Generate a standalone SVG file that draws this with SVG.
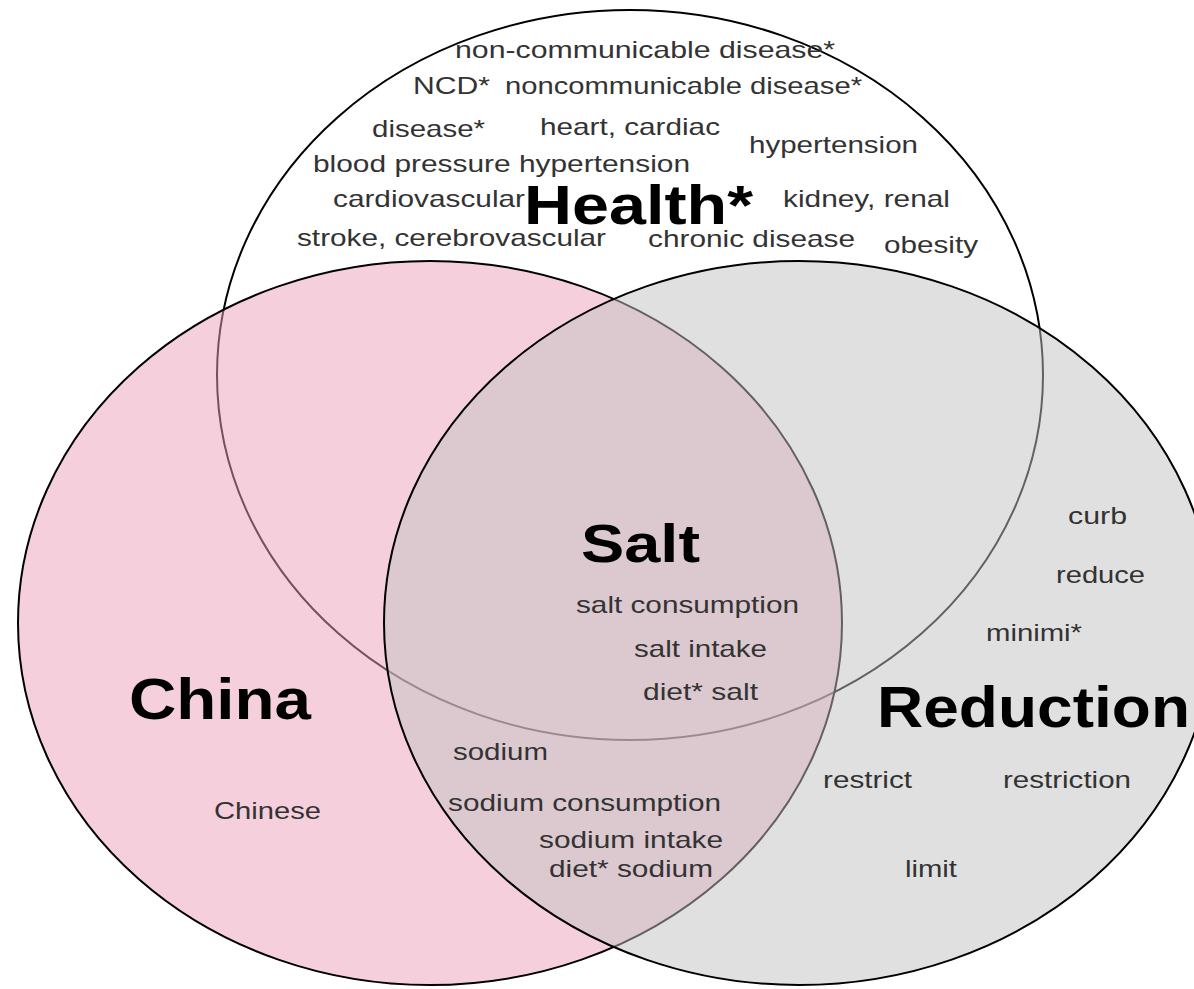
<svg xmlns="http://www.w3.org/2000/svg" width="1194" height="989" viewBox="0 0 1194 989">
<style>
.set{stroke:#000;stroke-width:2}
.t{font-family:"Liberation Sans",Arial,sans-serif;font-size:24px;fill:#333}
.big{font-family:"Liberation Sans",Arial,sans-serif;font-weight:bold;fill:#000}
</style>
<rect width="1194" height="989" fill="#fff"/>
<g id="health">
<ellipse class="set" cx="630" cy="375" rx="413" ry="365" fill="#fff"/>
</g>
<g id="china">
<ellipse class="set" cx="430" cy="623" rx="412" ry="362" fill="#ed9fbb" fill-opacity="0.5"/>
</g>
<g id="reduction">
<ellipse class="set" cx="799" cy="623" rx="415" ry="362" fill="#c1c1c1" fill-opacity="0.5"/>
</g>
<g id="health-labels">
<text class="t" x="455" y="58" textLength="380" lengthAdjust="spacingAndGlyphs">non-communicable disease*</text>
<text class="t" x="413" y="94" textLength="77" lengthAdjust="spacingAndGlyphs">NCD*</text>
<text class="t" x="505" y="94" textLength="357" lengthAdjust="spacingAndGlyphs">noncommunicable disease*</text>
<text class="t" x="372" y="137" textLength="113" lengthAdjust="spacingAndGlyphs">disease*</text>
<text class="t" x="540" y="135" textLength="180" lengthAdjust="spacingAndGlyphs">heart, cardiac</text>
<text class="t" x="749" y="153" textLength="169" lengthAdjust="spacingAndGlyphs">hypertension</text>
<text class="t" x="313" y="172" textLength="377" lengthAdjust="spacingAndGlyphs">blood pressure hypertension</text>
<text class="t" x="333" y="207" textLength="192" lengthAdjust="spacingAndGlyphs">cardiovascular</text>
<text class="t" x="783" y="207" textLength="167" lengthAdjust="spacingAndGlyphs">kidney, renal</text>
<text class="t" x="297" y="246" textLength="309" lengthAdjust="spacingAndGlyphs">stroke, cerebrovascular</text>
<text class="t" x="648" y="247" textLength="207" lengthAdjust="spacingAndGlyphs">chronic disease</text>
<text class="t" x="884" y="253" textLength="94" lengthAdjust="spacingAndGlyphs">obesity</text>
<text class="big" x="524" y="224" font-size="55" textLength="229" lengthAdjust="spacingAndGlyphs">Health*</text>
</g>
<g id="salt-labels">
<text class="big" x="581" y="562" font-size="54" textLength="119" lengthAdjust="spacingAndGlyphs">Salt</text>
<text class="t" x="576" y="613" textLength="223" lengthAdjust="spacingAndGlyphs">salt consumption</text>
<text class="t" x="634" y="657" textLength="133" lengthAdjust="spacingAndGlyphs">salt intake</text>
<text class="t" x="643" y="700" textLength="115" lengthAdjust="spacingAndGlyphs">diet* salt</text>
<text class="t" x="453" y="760" textLength="95" lengthAdjust="spacingAndGlyphs">sodium</text>
<text class="t" x="448" y="811" textLength="273" lengthAdjust="spacingAndGlyphs">sodium consumption</text>
<text class="t" x="539" y="848" textLength="184" lengthAdjust="spacingAndGlyphs">sodium intake</text>
<text class="t" x="549" y="877" textLength="164" lengthAdjust="spacingAndGlyphs">diet* sodium</text>
</g>
<g id="china-labels">
<text class="big" x="129" y="719" font-size="57" textLength="182" lengthAdjust="spacingAndGlyphs">China</text>
<text class="t" x="214" y="819" textLength="107" lengthAdjust="spacingAndGlyphs">Chinese</text>
</g>
<g id="reduction-labels">
<text class="big" x="877" y="727" font-size="58" textLength="313" lengthAdjust="spacingAndGlyphs">Reduction</text>
<text class="t" x="1068" y="524" textLength="59" lengthAdjust="spacingAndGlyphs">curb</text>
<text class="t" x="1056" y="583" textLength="89" lengthAdjust="spacingAndGlyphs">reduce</text>
<text class="t" x="986" y="641" textLength="96" lengthAdjust="spacingAndGlyphs">minimi*</text>
<text class="t" x="823" y="788" textLength="89" lengthAdjust="spacingAndGlyphs">restrict</text>
<text class="t" x="1003" y="788" textLength="128" lengthAdjust="spacingAndGlyphs">restriction</text>
<text class="t" x="905" y="877" textLength="52" lengthAdjust="spacingAndGlyphs">limit</text>
</g>
<g id="connectors"/>
</svg>
